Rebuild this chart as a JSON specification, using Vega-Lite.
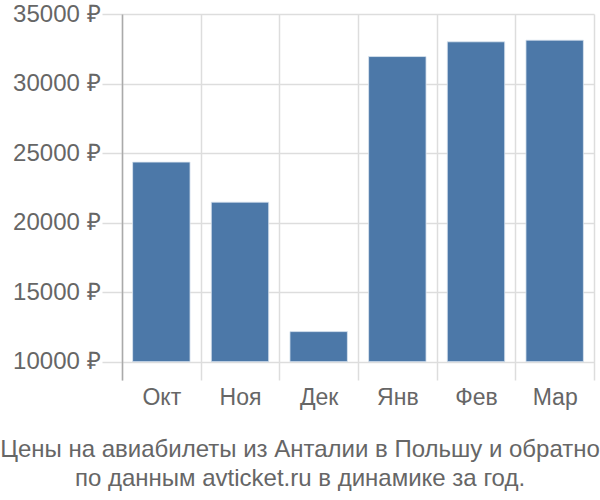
{
  "$schema": "https://vega.github.io/schema/vega-lite/v6.json",
  "width": 472,
  "height": 366,
  "autosize": "none",
  "padding": {"left": 122, "top": 14, "right": 6, "bottom": 120},
  "background": "white",
  "config": {"view": {"stroke": null}, "font": "Liberation Sans"},
  "title": {
    "text": ["Цены на авиабилеты из Анталии в Польшу и обратно", "по данным avticket.ru в динамике за год."],
    "orient": "bottom",
    "anchor": "middle",
    "dx": -58,
    "offset": 29,
    "fontSize": 24,
    "fontWeight": "normal",
    "color": "#666666",
    "lineHeight": 29,
    "font": "Liberation Sans"
  },
  "data": {
    "values": [
      {"month": "Окт", "price": 24350},
      {"month": "Ноя", "price": 21470},
      {"month": "Дек", "price": 12160},
      {"month": "Янв", "price": 31940},
      {"month": "Фев", "price": 33000},
      {"month": "Мар", "price": 33120}
    ]
  },
  "mark": {"type": "bar", "color": "#4c78a8", "stroke": "#dce6f0", "strokeWidth": 0.8, "width": {"band": 0.73}},
  "encoding": {
    "x": {
      "field": "month",
      "type": "nominal",
      "sort": null,
      "scale": {"paddingInner": 0, "paddingOuter": 0},
      "axis": {
        "title": null,
        "tickBand": "extent",
        "grid": true,
        "gridColor": "#dddddd",
        "gridWidth": 1.5,
        "ticks": false,
        "domain": false,
        "labelAngle": 0,
        "labelFontSize": 23,
        "labelColor": "#666666",
        "labelPadding": 6,
        "labelFont": "Liberation Sans"
      }
    },
    "y": {
      "field": "price",
      "type": "quantitative",
      "scale": {"domain": [8680, 35000], "nice": false, "zero": false},
      "axis": {
        "title": null,
        "values": [10000, 15000, 20000, 25000, 30000, 35000],
        "labelExpr": "datum.value + ' ₽'",
        "grid": true,
        "gridColor": "#dddddd",
        "gridWidth": 1.5,
        "tickColor": "#dddddd",
        "tickSize": 20,
        "tickWidth": 1.5,
        "domainColor": "#aaaaaa",
        "domainWidth": 1.5,
        "labelFontSize": 24,
        "labelColor": "#666666",
        "labelPadding": 2,
        "labelFont": "Liberation Sans"
      }
    },
    "y2": {"datum": 10000}
  }
}
